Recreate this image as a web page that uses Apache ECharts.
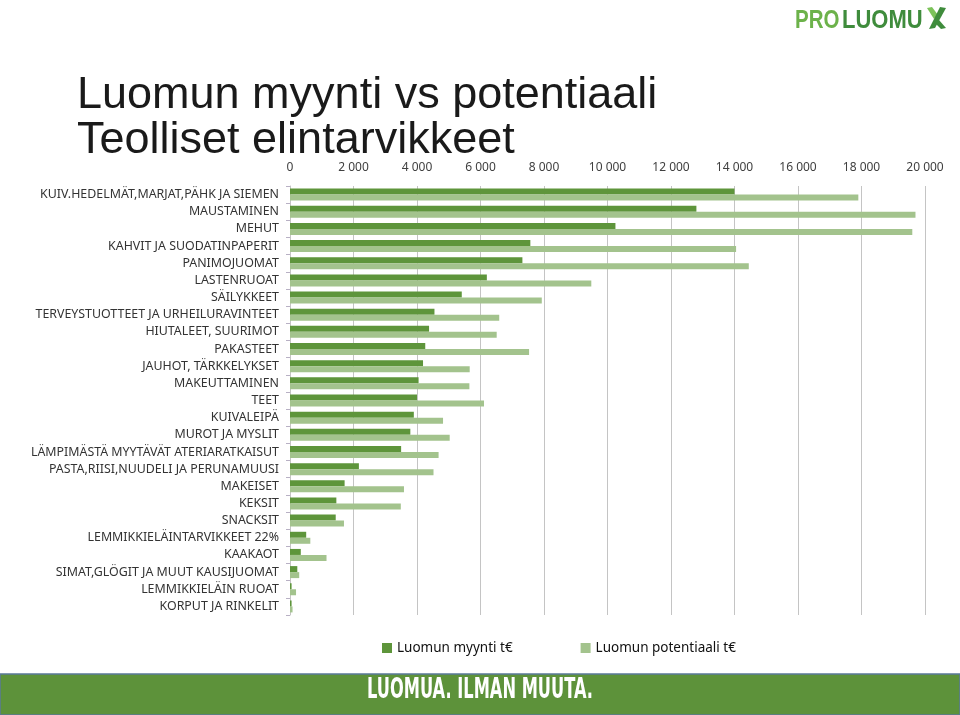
<!DOCTYPE html>
<html>
<head>
<meta charset="utf-8">
<script src="https://cdn.jsdelivr.net/npm/echarts@6/dist/echarts.min.js"></script>
<style>
  html, body { margin: 0; padding: 0; background: #fff; }
  #chart { width: 960px; height: 715px; }
</style>
</head>
<body>
<div id="chart"></div>
<script>
// categories top to bottom
var categories = [
  "KUIV.HEDELMÄT,MARJAT,PÄHK JA SIEMEN",
  "MAUSTAMINEN",
  "MEHUT",
  "KAHVIT JA SUODATINPAPERIT",
  "PANIMOJUOMAT",
  "LASTENRUOAT",
  "SÄILYKKEET",
  "TERVEYSTUOTTEET JA URHEILURAVINTEET",
  "HIUTALEET, SUURIMOT",
  "PAKASTEET",
  "JAUHOT, TÄRKKELYKSET",
  "MAKEUTTAMINEN",
  "TEET",
  "KUIVALEIPÄ",
  "MUROT JA MYSLIT",
  "LÄMPIMÄSTÄ MYYTÄVÄT ATERIARATKAISUT",
  "PASTA,RIISI,NUUDELI JA PERUNAMUUSI",
  "MAKEISET",
  "KEKSIT",
  "SNACKSIT",
  "LEMMIKKIELÄINTARVIKKEET 22%",
  "KAAKAOT",
  "SIMAT,GLÖGIT JA MUUT KAUSIJUOMAT",
  "LEMMIKKIELÄIN RUOAT",
  "KORPUT JA RINKELIT"
];
var myynti = [14000, 12800, 10250, 7570, 7320, 6200, 5410, 4550, 4380, 4260, 4190, 4050, 4000, 3900, 3790, 3500, 2170, 1720, 1460, 1440, 510, 340, 230, 50, 50];
var potentiaali = [17900, 19700, 19600, 14050, 14450, 9490, 7930, 6590, 6510, 7530, 5660, 5650, 6110, 4820, 5030, 4680, 4520, 3590, 3490, 1700, 640, 1150, 290, 190, 80];
var xTicks = { min: 0, max: 20000, step: 2000 };

var chart = echarts.init(document.getElementById('chart'));

var labelFont = '"Noto Sans", sans-serif';

chart.setOption({
  animation: false,
  title: {
    text: 'Luomun myynti vs potentiaali\nTeolliset elintarvikkeet',
    left: 72,
    top: 68,
    textStyle: {
      fontFamily: '"Liberation Sans", Arial, sans-serif',
      fontSize: 45,
      fontWeight: 'normal',
      lineHeight: 45,
      color: '#1a1a1a'
    }
  },
  legend: {
    left: 377,
    top: 636,
    itemWidth: 10,
    itemHeight: 10,
    itemGap: 68,
    icon: 'rect',
    textStyle: { fontFamily: labelFont, fontSize: 13.5, color: '#111' },
    data: ['Luomun myynti t€', 'Luomun potentiaali t€']
  },
  grid: { left: 290, right: 35, top: 186, bottom: 100 },
  xAxis: {
    type: 'value',
    position: 'top',
    min: xTicks.min,
    max: xTicks.max,
    interval: xTicks.step,
    axisLine: { show: false },
    axisTick: { show: false },
    splitLine: { show: true, lineStyle: { color: '#c4c4c4', width: 1 } },
    axisLabel: {
      margin: 12,
      fontFamily: labelFont,
      fontSize: 12,
      color: '#404040',
      formatter: function (v) { return String(v).replace(/\B(?=(\d{3})+(?!\d))/g, ' '); }
    }
  },
  yAxis: {
    type: 'category',
    inverse: true,
    data: categories,
    axisLine: { show: true, lineStyle: { color: '#c4c4c4' } },
    axisTick: { show: true, length: 4, lineStyle: { color: '#b8b0c4' } },
    axisLabel: {
      margin: 11,
      interval: 0,
      fontFamily: labelFont,
      fontSize: 12.4,
      color: '#333'
    }
  },
  series: [
    {
      name: 'Luomun myynti t€',
      type: 'bar',
      data: myynti,
      barWidth: 6,
      barGap: '0%',
      itemStyle: { color: '#5e953b' }
    },
    {
      name: 'Luomun potentiaali t€',
      type: 'bar',
      data: potentiaali,
      barWidth: 6,
      itemStyle: { color: '#a3c38d' }
    }
  ],
  graphic: [
    // logo
    {
      type: 'text', x: 795, y: 9, scaleX: 0.82,
      style: { text: 'PRO', fill: '#6cb24a', font: 'bold 25px "Liberation Sans", sans-serif' }
    },
    {
      type: 'text', x: 842, y: 9, scaleX: 0.88,
      style: { text: 'LUOMU', fill: '#3f8c3c', font: 'bold 25px "Liberation Sans", sans-serif' }
    },
    {
      type: 'polygon',
      shape: { points: [[927, 8], [932, 7], [938, 15], [934, 19]] },
      style: { fill: '#7cc35a' }
    },
    {
      type: 'polygon',
      shape: { points: [[940, 7], [946, 8], [935, 28], [929, 29]] },
      style: { fill: '#3f8c3c' }
    },
    {
      type: 'polygon',
      shape: { points: [[939, 20], [946, 28], [941, 29], [936, 24]] },
      style: { fill: '#3f8c3c' }
    },
    // bottom banner
    {
      type: 'rect',
      shape: { x: 0, y: 674, width: 960, height: 41 },
      style: { fill: '#5d923a', stroke: '#5a7a98', lineWidth: 1.5 }
    },
    {
      type: 'text',
      x: 480, y: 691,
      scaleX: 0.58,
      style: {
        text: 'LUOMUA. ILMAN MUUTA.',
        fill: '#ffffff',
        font: 'bold 28px "DejaVu Sans", sans-serif',
        align: 'center',
        verticalAlign: 'middle'
      }
    }
  ]
});
</script>
</body>
</html>
